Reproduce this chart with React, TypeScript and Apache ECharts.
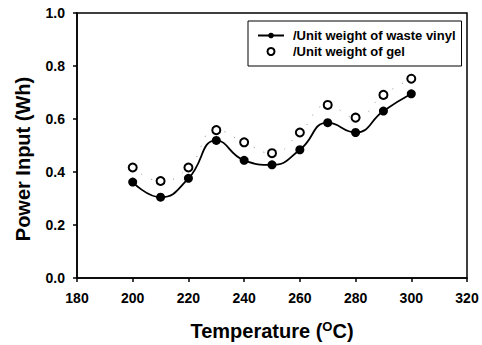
import React, { useEffect, useRef } from "react";
import * as echarts from "echarts";

const temperatures = [200, 210, 220, 230, 240, 250, 260, 270, 280, 290, 300];
const vinylValues = [0.362, 0.305, 0.376, 0.519, 0.444, 0.427, 0.484, 0.586, 0.549, 0.63, 0.695];
const gelValues = [0.417, 0.366, 0.417, 0.558, 0.512, 0.471, 0.549, 0.653, 0.605, 0.691, 0.752];
const vinylName = "/Unit weight of waste vinyl";
const gelName = "/Unit weight of gel";

const FONT = "'Liberation Sans', Arial, sans-serif";

export default function App() {
  const ref = useRef<HTMLDivElement>(null);
  useEffect(() => {
    if (!ref.current) return;
    const chart = echarts.init(ref.current, undefined, { renderer: "svg" });
    const vinylData = temperatures.map((t, i) => [t, vinylValues[i]]);
    const gelData = temperatures.map((t, i) => [t, gelValues[i]]);
    chart.setOption({
      animation: false,
      backgroundColor: "#fff",
      textStyle: { fontFamily: FONT },
      grid: {
        left: 77,
        right: 15,
        top: 13,
        bottom: 67,
        show: true,
        borderColor: "#000",
        borderWidth: 1.5,
      },
      xAxis: {
        type: "value",
        min: 180,
        max: 320,
        interval: 20,
        splitLine: { show: false },
        axisLine: { show: true, lineStyle: { color: "#000", width: 1.5 } },
        axisTick: { show: true, length: 4, lineStyle: { color: "#000", width: 1.5 } },
        axisLabel: { color: "#000", fontSize: 14, fontWeight: "bold", fontFamily: FONT, margin: 13 },
      },
      yAxis: {
        type: "value",
        min: 0,
        max: 1,
        interval: 0.2,
        splitLine: { show: false },
        axisLine: { show: true, lineStyle: { color: "#000", width: 1.5 } },
        axisTick: { show: true, length: 4, lineStyle: { color: "#000", width: 1.5 } },
        axisLabel: {
          color: "#000",
          fontSize: 14,
          fontWeight: "bold",
          fontFamily: FONT,
          margin: 12,
          formatter: (v: number) => v.toFixed(1),
        },
      },
      legend: {
        left: 248,
        top: 21,
        orient: "vertical",
        padding: [8, 6, 8, 9],
        itemGap: 3,
        itemWidth: 26,
        itemHeight: 7,
        borderColor: "#000",
        borderWidth: 1,
        borderRadius: 0,
        data: [vinylName, gelName],
        textStyle: {
          color: "#000",
          fontSize: 13,
          fontWeight: "bold",
          fontFamily: FONT,
          width: 165,
          padding: [0, 0, 0, 4],
        },
      },
      series: [
        {
          name: "gel-line",
          type: "line",
          smooth: true,
          data: gelData,
          symbol: "none",
          lineStyle: { color: "#888", width: 1, type: [1, 10] },
          z: 1,
        },
        {
          name: gelName,
          type: "scatter",
          data: gelData,
          symbol: "emptyCircle",
          symbolSize: 8,
          itemStyle: { color: "#000", borderColor: "#000", borderWidth: 1.8, opacity: 1 },
          z: 3,
        },
        {
          name: vinylName,
          type: "line",
          smooth: true,
          data: vinylData,
          symbol: "circle",
          symbolSize: 9,
          itemStyle: { color: "#000", opacity: 1 },
          lineStyle: { color: "#000", width: 1.8 },
          z: 4,
        },
      ],
      graphic: [
        {
          type: "text",
          x: 23,
          y: 159,
          rotation: Math.PI / 2,
          style: {
            text: "Power Input (Wh)",
            font: `bold 20px ${FONT}`,
            fill: "#000",
            align: "center",
            verticalAlign: "middle",
          },
        },
        {
          type: "text",
          x: 272,
          y: 331,
          style: {
            text: "{a|Temperature (}{s|O}{a|C)}",
            fill: "#000",
            align: "center",
            verticalAlign: "middle",
            rich: {
              a: { fontSize: 20, fontWeight: "bold", fontFamily: FONT, fill: "#000" },
              s: {
                fontSize: 13,
                fontWeight: "bold",
                fontFamily: FONT,
                fill: "#000",
                verticalAlign: "top",
                padding: [0, 0, 9, 0],
              },
            },
          },
        },
      ],
    });
    return () => chart.dispose();
  }, []);
  return (
    <div
      ref={ref}
      style={{ position: "absolute", left: 0, top: 0, width: 482, height: 345 }}
    />
  );
}
